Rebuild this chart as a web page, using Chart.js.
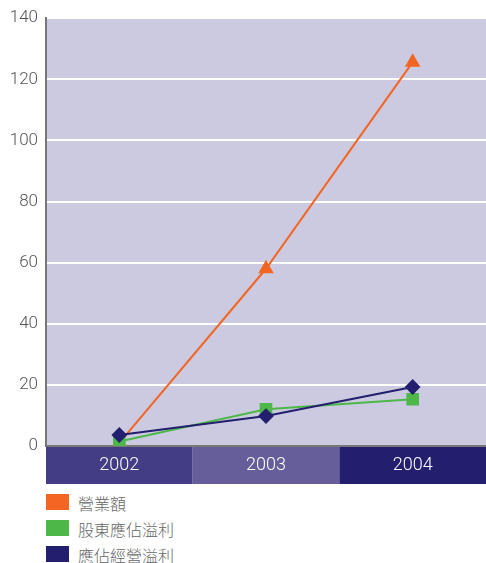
<!DOCTYPE html>
<html lang="zh-TW">
  <head>
    <meta charset="UTF-8" />
    <title>營業額</title>
    <script src="https://cdn.jsdelivr.net/npm/chart.js@4.4.0/dist/chart.umd.min.js"></script>
    <style>
      body { margin: 0; background: #fff; }
      .chart-container { position: relative; width: 486px; height: 486px; }
      #legend { position: absolute; left: 46px; top: 494px; margin: 0; padding: 0; list-style: none;
        font-family: "Noto Sans CJK TC", "Noto Sans", sans-serif; font-size: 16px; font-weight: 300; color: #666; }
      #legend li { height: 26px; display: flex; align-items: flex-start; }
      #legend span.box { display: inline-block; width: 23px; height: 16px; margin-right: 9px; }
      #legend span.txt { line-height: 18px; margin-top: 0px; }
    </style>
  </head>
  <body>
    <div class="chart-container">
      <canvas id="chart"></canvas>
    </div>
    <ul id="legend"></ul>
    <script>
      const years = ["2002", "2003", "2004"];
      const revenue = [1, 58, 125.6];
      const netProfit = [1.5, 12, 15.3];
      const opProfit = [3.6, 9.8, 19.3];
      const yTicks = [0, 20, 40, 60, 80, 100, 120, 140];

      const colors = {
        orange: "#F26522",
        green: "#4DB848",
        navy: "#231F6E",
        plot: "#CCCAE0",
        bands: ["#423D84", "#655E9A", "#231F6E"],
      };

      const bandHeight = 38;

      const bandsPlugin = {
        id: "bands",
        beforeDraw(chart) {
          const { ctx, chartArea } = chart;
          const x = chart.scales.x;
          ctx.save();
          ctx.fillStyle = colors.plot;
          ctx.fillRect(chartArea.left, chartArea.top, chartArea.right - chartArea.left, chartArea.bottom - chartArea.top);
          const w = (chartArea.right - chartArea.left) / years.length;
          years.forEach((y, i) => {
            const cx = x.getPixelForValue(i);
            ctx.fillStyle = colors.bands[i];
            ctx.fillRect(cx - w / 2, chartArea.bottom, w, bandHeight);
          });
          ctx.restore();
        },
      };

      new Chart(document.getElementById("chart").getContext("2d"), {
        type: "line",
        data: {
          labels: years,
          datasets: [
            {
              label: "應佔經營溢利",
              data: opProfit,
              borderColor: colors.navy,
              backgroundColor: colors.navy,
              pointStyle: "rectRot",
              pointRadius: 6.5,
              borderWidth: 2,
              order: 0,
            },
            {
              label: "股東應佔溢利",
              data: netProfit,
              borderColor: colors.green,
              backgroundColor: colors.green,
              pointStyle: "rect",
              pointRadius: 7.5,
              borderWidth: 2,
              order: 1,
            },
            {
              label: "營業額",
              data: revenue,
              borderColor: colors.orange,
              backgroundColor: colors.orange,
              pointStyle: "triangle",
              pointRadius: 7,
              borderWidth: 2,
              order: 2,
            },
          ],
        },
        options: {
          responsive: true,
          maintainAspectRatio: false,
          animation: false,
          layout: { autoPadding: false, padding: { top: 18, right: 0, bottom: 2, left: 0 } },
          plugins: { legend: { display: false }, tooltip: { enabled: false } },
          elements: { line: { tension: 0 }, point: { borderWidth: 0 } },
          scales: {
            x: {
              offset: true,
              grid: { display: false, drawTicks: false },
              border: { display: true, color: "#777", width: 2 },
              ticks: { color: "#fff", padding: 9, font: { family: "Roboto", size: 18, weight: 300 } },
              afterFit(scale) {
                scale.height = bandHeight;
                scale.paddingLeft = 0;
                scale.paddingRight = 0;
              },
            },
            y: {
              min: 0,
              max: 140,
              afterBuildTicks(scale) { scale.ticks = yTicks.map((v) => ({ value: v })); },
              grid: { color: "#fff", lineWidth: 2, drawTicks: false },
              border: { display: true, color: "#777", width: 2 },
              ticks: { color: "#555", padding: 8, font: { family: "Roboto", size: 17, weight: 300 } },
              afterFit(scale) { scale.width = 46; },
            },
          },
        },
        plugins: [bandsPlugin],
      });

      const legendItems = [
        ["營業額", colors.orange],
        ["股東應佔溢利", colors.green],
        ["應佔經營溢利", colors.navy],
      ];
      document.getElementById("legend").innerHTML = legendItems
        .map(([t, c]) => `<li><span class="box" style="background:${c}"></span><span class="txt">${t}</span></li>`)
        .join("");
    </script>
  </body>
</html>
